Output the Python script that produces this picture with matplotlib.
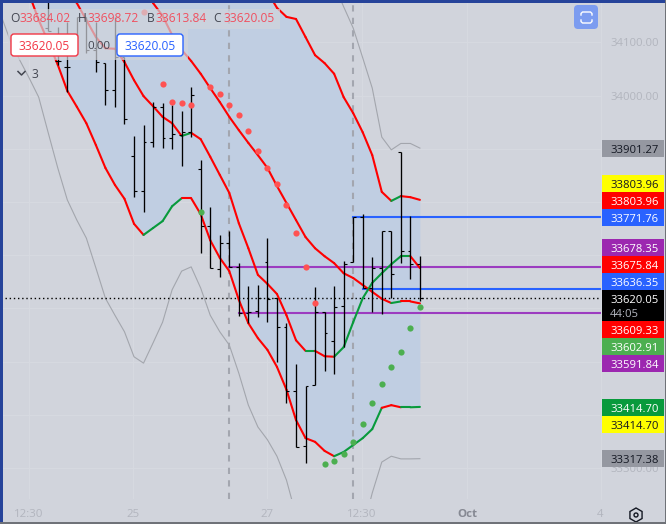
#!/usr/bin/python3
import matplotlib
matplotlib.use("Agg")
import matplotlib.pyplot as plt
from matplotlib.patches import Rectangle, FancyBboxPatch, RegularPolygon, Circle

plt.rcParams['font.family'] = ['Open Sans', 'DejaVu Sans']

# OHLC bars, first bar index is -19 (0 is the first dashed session line)
bar_first = -19
highs = [34189, 34129, 34138, 34148, 34148, 34138, 34061, 34148, 34072, 33924, 33945, 33988, 33986, 33982, 33971, 34016,
         33879, 33790, 33738, 33745, 33685, 33642, 33644, 33732, 33620, 33572, 33495, 33454, 33640, 33593, 33642, 33689,
         33772, 33777, 33696, 33745, 33745, 33894, 33774, 33698.72]
lows = [34121, 34058, 34007, 34108, 34080, 34044, 33982, 33978, 33947, 33809, 33781, 33903, 33901, 33900, 33868, 33922,
        33704, 33676, 33659, 33678, 33586, 33572, 33584, 33574, 33499, 33422, 33339, 33309, 33456, 33482, 33477, 33527,
        33687, 33638, 33593, 33589, 33620, 33685, 33655, 33613.84]
opens = [34127, 34065, 34054, 34108, 34148, 34086, 34061, 34010, 34072, 33886, 33821, 33913, 33978, 33920, 33926, 33931,
         33862, 33755, 33674, 33723, 33678, 33591, 33595, 33687, 33620, 33565, 33445, 33341, 33456, 33593, 33539, 33604,
         33687, 33772, 33638, 33676, 33745, 33894, 33708, 33684.02]
closes = [34121, 34065, 34054, 34148, 34086, 34063, 34010, 34072, 33956, 33821, 33913, 33978, 33920, 33928, 33931, 34001,
          33755, 33676, 33723, 33678, 33591, 33593, 33620, 33618, 33565, 33445, 33339, 33454, 33593, 33554, 33602, 33683,
          33772, 33638, 33676, 33745, 33665, 33708, 33684, 33620.05]

# band lines
lower_first = -21
lower_band = [34191, 34142, 34101, 34058, 34009, 33979, 33948, 33907, 33864, 33832, 33806, 33759, 33738, 33751, 33764,
              33792, 33807, 33807, 33777, 33728, 33695, 33670, 33616, 33572, 33544, 33522, 33490, 33447, 33390, 33356,
              33349, 33332, 33322, 33330, 33343, 33356, 33373, 33413, 33418, 33414, 33414, 33414.70]
lower_green = [(-9, -5), (11, 16), (18, 20)]

mid_low_first = -17
mid_low = [34199, 34174, 34142, 34110, 34089, 34088, 34063, 34029, 33999, 33980, 33960, 33948, 33924, 33930, 33918,
           33885, 33851, 33817, 33760, 33713, 33663, 33646, 33627, 33587, 33540, 33520, 33520, 33510, 33509, 33527,
           33574, 33619, 33648, 33666, 33683, 33698, 33698, 33675.84]
mid_low_green = [(-5, -4), (8, 9), (11, 19)]

mid_high_first = -9
mid_high = [34206, 34174, 34150, 34114, 34086, 34065, 34041, 34014, 33988, 33960, 33935, 33911, 33888, 33864, 33830,
            33798, 33766, 33734, 33713, 33698, 33685, 33666, 33657, 33644, 33631, 33618, 33610, 33613, 33613, 33609.33]
mid_high_green = [(17, 18)]

upper_first = 4
upper_band = [34195, 34165, 34148, 34144, 34110, 34076, 34061, 34041, 33997, 33967, 33931, 33888, 33819, 33802, 33811,
              33809, 33803.96]
upper_green = [(17, 18)]
off_chart = 34300

# thin gray envelope lines
gray_left_first = -24
gray_left = [34153, 34104, 34067, 34033, 33997, 33930, 33864, 33804, 33766, 33732, 33676, 33619, 33587, 33556, 33509,
             33497, 33535, 33574, 33635, 33670, 33678, 33638, 33587, 33556, 33531, 33478, 33418, 33377, 33353, 33322,
             33277, 33211]
gray_top_first = 11
gray_top = [34208, 34167, 34127, 34071, 34014, 33922, 33898, 33910, 33910, 33901.27]
gray_bottom_first = 14
gray_bottom = [33183, 33253, 33311, 33322, 33317, 33317, 33317.38]

# dots
red_dot_x = [-9, -7, -6, -5, -4, -2, -1, 0, 1, 2, 3, 4, 5, 6, 7, 8, 9]
red_dot_y = [34157, 34022, 33988, 33986, 33982, 34016, 34003, 33982, 33963, 33933, 33896, 33864, 33834, 33794, 33742,
             33678, 33610]
green_dot_x = [-3, 10, 11, 12, 13, 14, 15, 16, 17, 18, 19, 20]
green_dot_y = [33781, 33307, 33313, 33326, 33349, 33383, 33422, 33458, 33490, 33518, 33563, 33602.91]

session_lines = [0, 13]
# price, first bar, colour
level_lines = [(33771.76, 13, '#2962ff'), (33636.35, 14, '#2962ff'), (33678.35, 0, '#9c3cc0'), (33591.84, 1, '#9c3cc0')]
last_price = 33620.05
grid_prices = [34100, 34000, 33900, 33800, 33700, 33600, 33500, 33400, 33300]

# right scale labels: text, top, bottom, background, text colour
scale_labels = [
    ('33901.27', 140, 157, '#9598a1', '#131722'),
    ('33803.96', 175, 192, '#ffff00', '#131722'),
    ('33803.96', 192, 209, '#ff0000', '#ffffff'),
    ('33771.76', 209, 226, '#2962ff', '#ffffff'),
    ('33678.35', 239, 256, '#9c27b0', '#ffffff'),
    ('33675.84', 256, 273, '#ff0000', '#ffffff'),
    ('33636.35', 273, 290, '#2962ff', '#ffffff'),
    ('33609.33', 321, 338, '#ff0000', '#ffffff'),
    ('33602.91', 338, 355, '#4caf50', '#ffffff'),
    ('33591.84', 355, 372, '#9c27b0', '#ffffff'),
    ('33414.70', 399, 416, '#089a3c', '#ffffff'),
    ('33414.70', 416, 433, '#ffff00', '#131722'),
    ('33317.38', 450, 467, '#9598a1', '#131722'),
]
time_ticks = [('12:30', 29), ('25', 133), ('27', 267), ('12:30', 362), ('Oct', 467), ('4', 600)]
scale_ticks = [('34100.00', 42), ('34000.00', 96), ('33300.00', 468)]

BG = '#d1d4dc'
FILL = '#c0cee2'
RED = '#ff0000'
GREEN = '#089a3c'
BAR_STEP = 9.53
BAR_ZERO = 229.3


def to_k(px):
    return (px - BAR_ZERO) / BAR_STEP


def to_price(py):
    return 34179.7 - 1.88 * py


def draw_band(ax, first, values, green):
    for i in range(len(values) - 1):
        k = first + i
        col = RED
        for a, b in green:
            if a <= k < b:
                col = GREEN
        ax.plot([k, k + 1], [values[i], values[i + 1]], color=col, lw=1.5, solid_capstyle='round', zorder=5)


fig = plt.figure(figsize=(6.66, 5.24), dpi=100, facecolor=BG)
ax = fig.add_axes([3 / 666, 1 - 499 / 524, 598 / 666, 496 / 524])
ax.set_xlim(to_k(3), to_k(601))
ax.set_ylim(to_price(499), to_price(3))
ax.set_facecolor(BG)
for s in ax.spines.values():
    s.set_visible(False)
ax.set_xticks([])
ax.set_yticks([])

for p in grid_prices:
    ax.axhline(p, color='#d6d9e0', lw=0.8, zorder=1)
for t in [29, 133, 267, 362, 467]:
    ax.axvline(to_k(t), color='#d6d9e0', lw=0.8, zorder=1)

# blue cloud between the lower and the upper band
fill_x = list(range(lower_first, 21))
fill_top = [off_chart] * (upper_first - lower_first) + upper_band
ax.fill_between(fill_x, lower_band, fill_top, color=FILL, lw=0, zorder=2)

for k in session_lines:
    ax.axvline(k, color='#a3a6af', lw=1.5, dashes=(3, 3), zorder=3)

ax.plot(range(gray_left_first, gray_left_first + len(gray_left)), gray_left, color='#a3a6ad', lw=0.8, zorder=3)
ax.plot(range(gray_top_first, gray_top_first + len(gray_top)), gray_top, color='#a3a6ad', lw=0.8, zorder=3)
ax.plot(range(gray_bottom_first, gray_bottom_first + len(gray_bottom)), gray_bottom, color='#a3a6ad', lw=0.8, zorder=3)

for price, k, col in level_lines:
    ax.plot([k, to_k(601)], [price, price], color=col, lw=1.5, zorder=4)

ax.axhline(last_price, color='black', lw=1, dashes=(1, 2), zorder=4, xmin=0.004)

draw_band(ax, upper_first, upper_band, upper_green)
draw_band(ax, mid_high_first, mid_high, mid_high_green)
draw_band(ax, mid_low_first, mid_low, mid_low_green)
draw_band(ax, lower_first, lower_band, lower_green)

idx = list(range(bar_first, bar_first + len(highs)))
ax.vlines(idx, lows, highs, color='black', lw=0.95, zorder=6)
ax.hlines(opens, [i - 0.3 for i in idx], idx, color='black', lw=0.8, zorder=6)
ax.hlines(closes, idx, [i + 0.3 for i in idx], color='black', lw=0.8, zorder=6)

ax.scatter(red_dot_x, red_dot_y, s=20, color='#ff5252', lw=0, zorder=7)
ax.scatter(green_dot_x, green_dot_y, s=20, color='#4caf50', lw=0, zorder=7)

# everything else sits on a pixel overlay
ov = fig.add_axes([0, 0, 1, 1], facecolor='none')
ov.set_xlim(0, 666)
ov.set_ylim(524, 0)
ov.axis('off')


def txt(x, y, s, col, size=11.6, ha='left', **kw):
    ov.text(x, y, s, color=col, fontsize=size * 0.72, ha=ha, va='center_baseline', **kw)


# legend header veil
ov.add_patch(Rectangle((8, 9), 272, 20, color=BG, alpha=0.7, lw=0))
ov.add_patch(Rectangle((8, 29), 180, 31, color=BG, alpha=0.7, lw=0))
txt(10, 17.5, 'O', '#434651', 12)
txt(20, 17.5, '33684.02', '#f0505f', 12)
txt(78, 17.5, 'H', '#434651', 12)
txt(88, 17.5, '33698.72', '#f0505f', 12)
txt(147, 17.5, 'B', '#434651', 12)
txt(155, 17.5, '33613.84', '#f0505f', 12)
txt(213, 17.5, 'C', '#434651', 12)
txt(223, 17.5, '33620.05', '#f0505f', 12)

ov.add_patch(FancyBboxPatch((11, 34), 67, 22, boxstyle='round,pad=0,rounding_size=3', fc='white', ec='#f23645', lw=1))
txt(44.5, 45.5, '33620.05', '#f23645', 12, ha='center')
txt(87, 45, '0.00', '#434651', 11.5)
ov.add_patch(FancyBboxPatch((117, 34), 66, 22, boxstyle='round,pad=0,rounding_size=3', fc='white', ec='#2962ff', lw=1))
txt(150, 45.5, '33620.05', '#2962ff', 12, ha='center')
ov.plot([18, 21.5, 25], [71.5, 75, 71.5], color='#434651', lw=1.1)
txt(31, 73.5, '3', '#434651', 12)

# refresh button, two white brackets on a blue square
ov.add_patch(FancyBboxPatch((574, 5), 24, 24, boxstyle='round,pad=0,rounding_size=4', fc='#7c9cf0', ec='none'))
ov.plot([581, 581, 582.5, 590.5, 592, 592], [15, 13.5, 12, 12, 13.5, 15], color='white', lw=1)
ov.plot([581, 581, 582.5, 590.5, 592, 592], [20, 21.5, 23, 23, 21.5, 20], color='white', lw=1)

# right scale
ov.plot([601, 601], [3, 499], color='#d6d9e0', lw=0.8)
for s, y in scale_ticks:
    txt(610, y, s, '#b2b5be', 11.3)
for s, top, bottom, bg, fg in scale_labels:
    ov.add_patch(Rectangle((602, top), 62, bottom - top, color=bg, lw=0, zorder=3))
    ov.text(610, (top + bottom) / 2 + 0.5, s, color=fg, fontsize=11.3 * 0.72, va='center_baseline', zorder=4)
ov.add_patch(Rectangle((602, 290), 62, 31, color='black', lw=0, zorder=3))
ov.text(610, 299, '33620.05', color='white', fontsize=11.3 * 0.72, va='center_baseline', zorder=4)
ov.text(610, 313, '44:05', color='#b2b5be', fontsize=11.3 * 0.72, va='center_baseline', zorder=4)

for s, x in time_ticks:
    col = '#868993' if s == 'Oct' else '#b2b5be'
    txt(x, 513, s, col, 11.5, ha='center', fontweight='bold' if s == 'Oct' else 'normal')

# settings icon
ov.add_patch(RegularPolygon((636, 515), 6, radius=7, orientation=0, fc='none', ec='#131722', lw=1))
ov.add_patch(Circle((636, 515), 2, fc='none', ec='#131722', lw=1))

# window edges
ov.add_patch(Rectangle((0, 0), 666, 3, color='#26439a', lw=0, zorder=5))
ov.add_patch(Rectangle((0, 0), 2.5, 524, color='#26439a', lw=0, zorder=5))
ov.add_patch(Rectangle((664.5, 0), 1.5, 524, color='#6f7278', lw=0, zorder=5))
ov.add_patch(Rectangle((0, 522), 666, 2, color='#6f7278', lw=0, zorder=5))

fig.savefig('out.png', dpi=100, facecolor=BG)
